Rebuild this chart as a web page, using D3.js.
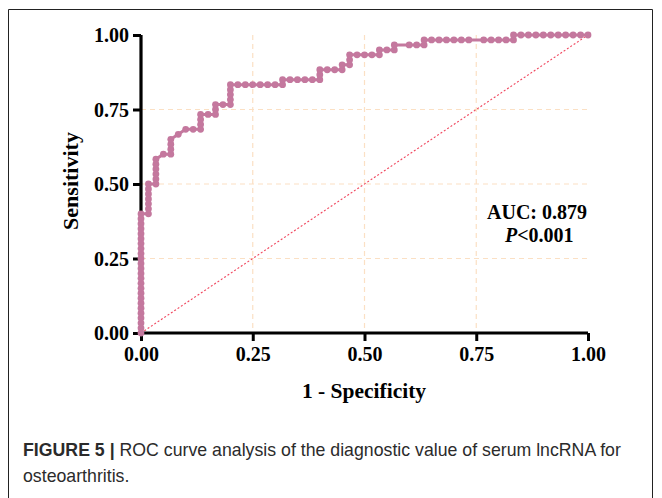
<!DOCTYPE html>
<html>
<head>
<meta charset="utf-8">
<script src="https://cdn.jsdelivr.net/npm/d3@7"></script>
<style>
body { margin: 0; background: #fff; }
.tick text { font-family: "Liberation Serif", "Times New Roman", serif; font-weight: bold; font-size: 20px; fill: #000; }
</style>
</head>
<body>
<div id="chart"></div>
<script>
// ROC curve, one dot per threshold, counted in cases (60 controls, 60 patients)
const nNeg = 60, nPos = 60;
const falsePos = [
  0,0,0,0,0,0,0,0,0,0,0,0,0,0,0,0,0,0,0,0,0,0,0,0,0,
  1,1,1,1,1,1,1,
  2,2,2,2,2,2,
  3,4,4,4,4,5,6,7,
  8,8,8,8,9,10,10,10,11,
  12,12,12,12,12,13,14,15,16,17,18,19,19,
  20,21,22,23,24,24,24,25,26,27,27,
  28,28,28,29,30,31,32,32,33,34,34,
  36,37,38,38,39,40,41,42,43,44,
  46,47,48,49,50,50,
  51,52,53,54,55,56,57,58,59,60
];
const truePos = [
  0,1,2,3,4,5,6,7,8,9,10,11,12,13,14,15,16,17,18,19,20,21,22,23,24,
  24,25,26,27,28,29,30,
  30,31,32,33,34,35,
  36,36,37,38,39,40,41,41,
  41,42,43,44,44,44,45,46,46,
  46,47,48,49,50,50,50,50,50,50,50,50,51,
  51,51,51,51,51,52,53,53,53,53,54,
  54,55,56,56,56,56,56,57,57,57,58,
  58,58,58,59,59,59,59,59,59,59,
  59,59,59,59,59,60,
  60,60,60,60,60,60,60,60,60,60
];
const xTicks = [0, 0.25, 0.5, 0.75, 1];
const yTicks = [0, 0.25, 0.5, 0.75, 1];
const gridTicks = [0.25, 0.5, 0.75];
const aucText = "AUC: 0.879";
const pText = "<0.001";

const outerWidth = 662, outerHeight = 498;
const margin = {top: 35, left: 141};
const width = 447, height = 298;

const roc = falsePos.map((f, i) => ({fpr: f / nNeg, tpr: truePos[i] / nPos}));

const svg = d3.select("#chart").append("svg")
  .attr("width", outerWidth)
  .attr("height", outerHeight)
  .style("display", "block");

svg.append("rect").attr("width", outerWidth).attr("height", outerHeight).attr("fill", "#fff");

// figure frame
svg.append("path")
  .attr("d", "M8.5,498 V9.5 H652.5 V498")
  .attr("fill", "none")
  .attr("stroke", "#222")
  .attr("stroke-width", 1);

const g = svg.append("g").attr("transform", `translate(${margin.left},${margin.top})`);

const xScale = d3.scaleLinear().domain([0, 1]).range([0, width]);
const yScale = d3.scaleLinear().domain([0, 1]).range([height, 0]);

// dashed grid
g.selectAll(".vgrid").data(gridTicks).join("line")
  .attr("x1", d => xScale(d)).attr("x2", d => xScale(d))
  .attr("y1", yScale(1)).attr("y2", yScale(0))
  .attr("stroke", "#fbe0c4").attr("stroke-width", 1.2).attr("stroke-dasharray", "5,4");
g.selectAll(".hgrid").data(gridTicks).join("line")
  .attr("x1", xScale(0)).attr("x2", xScale(1))
  .attr("y1", d => yScale(d)).attr("y2", d => yScale(d))
  .attr("stroke", "#fbe0c4").attr("stroke-width", 1.2).attr("stroke-dasharray", "5,4");

// reference diagonal
g.append("line")
  .attr("x1", xScale(0)).attr("y1", yScale(0))
  .attr("x2", xScale(1)).attr("y2", yScale(1))
  .attr("stroke", "#f0445c").attr("stroke-width", 1.1).attr("stroke-dasharray", "2,2");

// axes
const xAxis = d3.axisBottom(xScale).tickValues(xTicks).tickFormat(d3.format(".2f")).tickSize(8).tickPadding(6);
const yAxis = d3.axisLeft(yScale).tickValues(yTicks).tickFormat(d3.format(".2f")).tickSize(8).tickPadding(4);

const xG = g.append("g").attr("transform", `translate(0,${height})`).call(xAxis);
const yG = g.append("g").call(yAxis);
[xG, yG].forEach(a => {
  a.select(".domain").attr("stroke", "#000").attr("stroke-width", 3.2);
  a.selectAll(".tick line").attr("stroke", "#000").attr("stroke-width", 3);
});
xG.select(".domain").attr("d", `M0,0H${width}`);
yG.select(".domain").attr("d", `M0,${height}V0`);
yG.selectAll(".tick text").attr("dy", "0.34em");

// ROC line and dots
const line = d3.line().x(d => xScale(d.fpr)).y(d => yScale(d.tpr));
g.append("path").datum(roc)
  .attr("d", line)
  .attr("fill", "none")
  .attr("stroke", "#c4789e")
  .attr("stroke-width", 3);
g.selectAll(".dot").data(roc).join("circle")
  .attr("cx", d => xScale(d.fpr))
  .attr("cy", d => yScale(d.tpr))
  .attr("r", 3.4)
  .attr("fill", "#c4789e");

// axis titles
const serif = '"Liberation Serif", "Times New Roman", serif';
svg.append("text")
  .attr("transform", "translate(78,181) rotate(-90)")
  .attr("text-anchor", "middle")
  .attr("font-family", serif).attr("font-weight", "bold").attr("font-size", 22)
  .text("Sensitivity");
svg.append("text")
  .attr("x", 364).attr("y", 398)
  .attr("text-anchor", "middle")
  .attr("font-family", serif).attr("font-weight", "bold").attr("font-size", 21.5)
  .text("1 - Specificity");

// AUC annotation
svg.append("text")
  .attr("x", 487).attr("y", 219)
  .attr("font-family", serif).attr("font-weight", "bold").attr("font-size", 20)
  .text(aucText);
const pLine = svg.append("text")
  .attr("x", 505).attr("y", 242)
  .attr("font-family", serif).attr("font-weight", "bold").attr("font-size", 20);
pLine.append("tspan").attr("font-style", "italic").text("P");
pLine.append("tspan").text(pText);

// caption, narrowed to the width of the printed line
const cap = svg.append("g").attr("font-family", '"Liberation Sans", Arial, sans-serif').attr("font-size", 18).attr("fill", "#2b2b2b");
const cap1 = cap.append("text").attr("x", 0).attr("y", 456);
cap1.append("tspan").attr("font-weight", "bold").text("FIGURE 5 |");
cap1.append("tspan").text(" ROC curve analysis of the diagnostic value of serum lncRNA for");
cap.append("text").attr("x", 0).attr("y", 482).text("osteoarthritis.");
const capW = cap1.node().getComputedTextLength();
cap.attr("transform", `translate(23,0) scale(${598 / capW},1)`);
</script>
</body>
</html>
